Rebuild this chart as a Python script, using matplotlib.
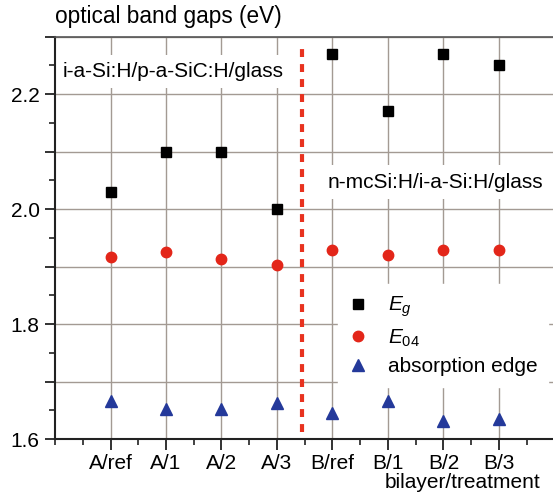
import numpy as np
import matplotlib
matplotlib.use('Agg')
import matplotlib.pyplot as plt
from matplotlib.ticker import MultipleLocator, FuncFormatter

plt.rcParams['font.family'] = ['Liberation Sans', 'DejaVu Sans']
plt.rcParams['mathtext.fontset'] = 'custom'
plt.rcParams['mathtext.rm'] = 'Liberation Sans'
plt.rcParams['mathtext.it'] = 'Liberation Sans:italic'

# Data
samples = ['A/ref', 'A/1', 'A/2', 'A/3', 'B/ref', 'B/1', 'B/2', 'B/3']
e_g = [2.03, 2.10, 2.10, 2.00, 2.27, 2.17, 2.27, 2.25]
e_04 = [1.916, 1.925, 1.914, 1.902, 1.928, 1.920, 1.928, 1.928]
abs_edge = [1.667, 1.652, 1.652, 1.662, 1.646, 1.667, 1.632, 1.635]
divider = 4.45

x = np.arange(1, len(samples) + 1)

fig = plt.figure(figsize=(5.53, 4.95), dpi=100)
ax = fig.add_axes([0.0995, 0.113, 0.903, 0.813])

grid_col = '#a39a93'
ax.set_axisbelow(True)
ax.grid(True, which='major', color=grid_col, lw=1.0)

ax.plot(x, e_g, 's', color='black', ms=6.5, ls='none', label=r'$E_g$', zorder=3)
ax.plot(x, e_04, 'o', color='#e32619', ms=7.5, ls='none', label=r'$E_{04}$', zorder=3)
ax.plot(x, abs_edge, '^', color='#24399a', ms=8, ls='none', label='absorption edge', zorder=3)

# red dashed separator
ax.plot([divider, divider], [1.612, 2.28], color='#e8321f', lw=3,
        ls=(0, (1.9, 1.7)), zorder=4)

ax.set_xlim(0, 9)
ax.set_ylim(1.6, 2.3)
ax.set_xticks(x)
ax.set_xticklabels(samples)
ax.xaxis.set_minor_locator(MultipleLocator(0.5))
ax.yaxis.set_major_locator(MultipleLocator(0.1))
ax.yaxis.set_minor_locator(MultipleLocator(0.05))
ax.yaxis.set_major_formatter(FuncFormatter(
    lambda v, p: f'{v:.1f}' if round(v * 10) % 2 == 0 else ''))

ax.tick_params(axis='both', which='major', labelsize=15, width=1.3,
               color='#222222', direction='out')
ax.tick_params(axis='x', which='major', length=8, pad=3)
ax.tick_params(axis='y', which='major', length=7, pad=4)
ax.tick_params(axis='both', which='minor', length=4, width=1.2, color='#222222')

for s in ['left', 'bottom']:
    ax.spines[s].set_linewidth(1.5)
    ax.spines[s].set_color('#222222')
ax.spines['top'].set_linewidth(1.2)
ax.spines['top'].set_color('#555555')
ax.spines['right'].set_visible(False)

box = dict(boxstyle='square,pad=0.35', facecolor='white', edgecolor='none')
ax.text(0.13, 2.239, 'i-a-Si:H/p-a-SiC:H/glass', fontsize=15,
        ha='left', va='center', bbox=box, zorder=2)
ax.text(4.92, 2.047, 'n-mcSi:H/i-a-Si:H/glass', fontsize=15,
        ha='left', va='center', bbox=box, zorder=2)

leg = ax.legend(loc='upper left', bbox_to_anchor=(0.545, 0.41), fontsize=15,
                frameon=True, fancybox=False, framealpha=1, facecolor='white',
                edgecolor='white', handlelength=1.0, handletextpad=0.9,
                labelspacing=0.4, borderpad=0.5)
leg.set_zorder(2)

fig.text(55 / 553, 1 - 17 / 495, 'optical band gaps (eV)', fontsize=16.3,
         ha='left', va='center')
fig.text(540 / 553, 1 - 483 / 495, 'bilayer/treatment', fontsize=15,
         ha='right', va='center')

fig.savefig('out.png', dpi=100)
